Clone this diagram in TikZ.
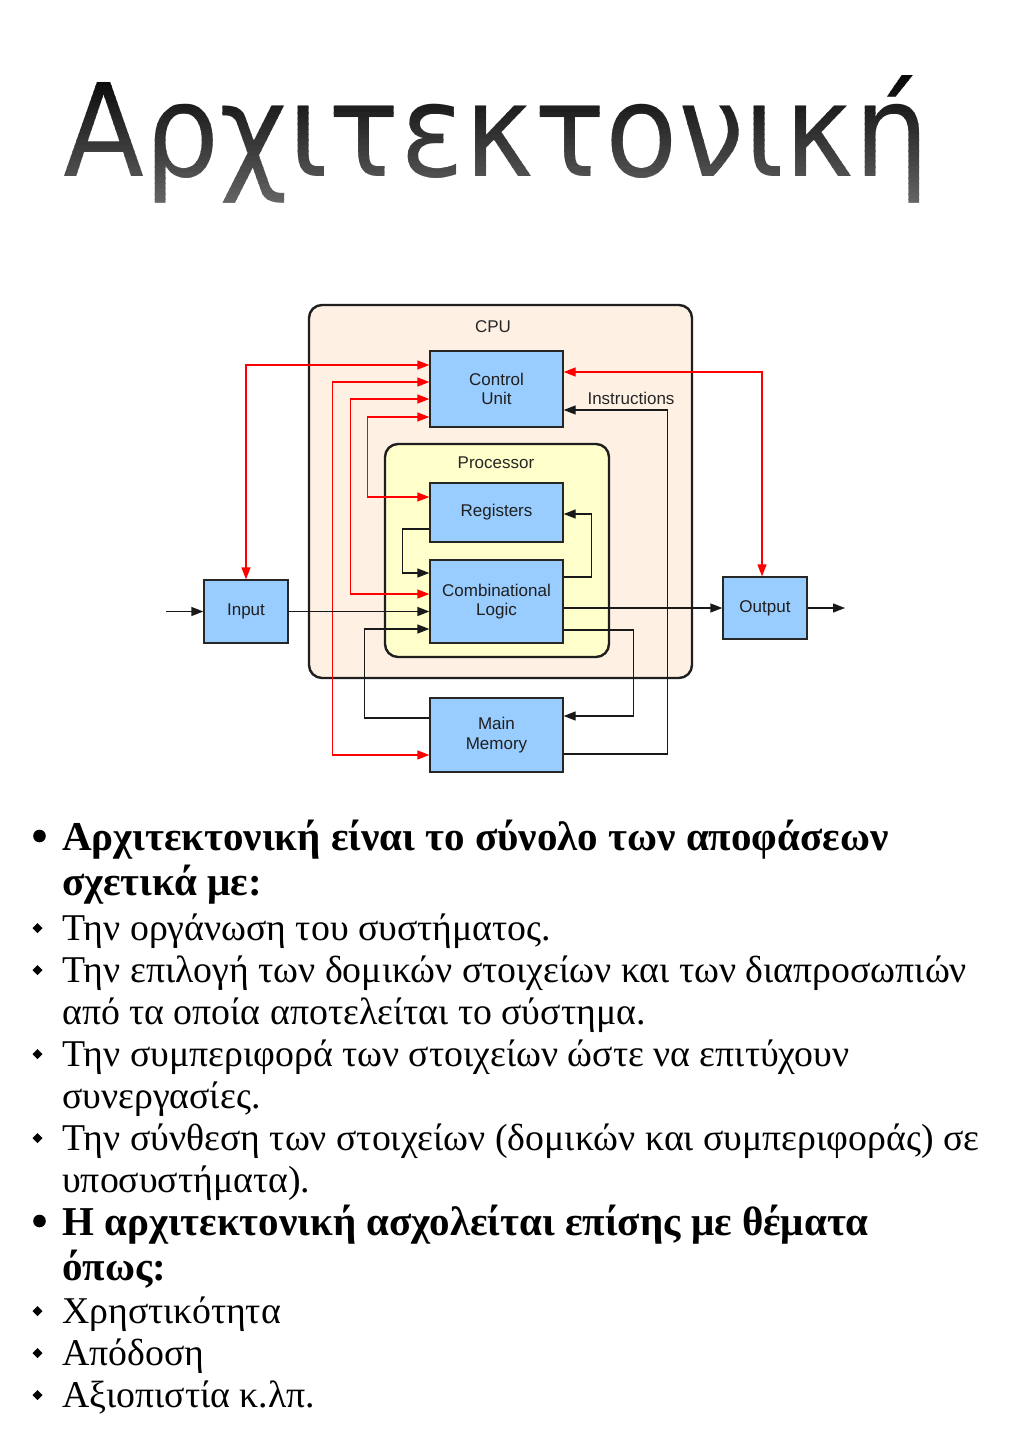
\documentclass[tikz,border=0pt]{standalone}
\usepackage{fontspec}
\usepackage{graphicx}
\setmainfont{Liberation Serif}
\newfontfamily\diagfont{Liberation Sans}
\newfontfamily\titlefont{DejaVu Sans}
\usetikzlibrary{arrows.meta,calc}
\definecolor{boxblue}{HTML}{99CCFF}
\definecolor{cpufill}{HTML}{FFF0E4}
\definecolor{procfill}{HTML}{FFFFCC}
\definecolor{redline}{HTML}{FF0000}
\newcommand\mytitlestr{\resizebox{866pt}{\height}{\titlefont\fontsize{129}{129}\selectfont Αρχιτεκτονική}}

\begin{document}
\begin{tikzpicture}[x=1pt,y=1pt,
  box/.style={draw=black!85, line width=1.3pt, fill=boxblue, inner sep=0pt,
    font=\diagfont\fontsize{17}{19.5}\selectfont, text=black!88, align=center},
  container/.style={draw=black!88, line width=2.4pt, rounded corners=13pt, inner sep=0pt},
  lbl/.style={font=\diagfont\fontsize{17}{19.5}\selectfont, text=black!85, inner sep=0pt},
  tip/.tip={Triangle[length=12pt,width=9pt]},
  rline/.style={draw=redline, line width=1.3pt, -tip},
  rboth/.style={draw=redline, line width=1.3pt, tip-tip},
  bline/.style={draw=black!90, line width=1.3pt, -tip},
  bodytext/.style={anchor=base west, inner sep=0pt, font=\fontsize{37.8}{42}\selectfont},
  headtext/.style={anchor=base west, inner sep=0pt, font=\bfseries\fontsize{41}{44}\selectfont},
  titletext/.style={anchor=base, inner sep=0pt},
  bigbullet/.style={fill=black},
  smallbullet/.style={fill=black}
]
\useasboundingbox (0,0) rectangle (1024,-1448);
\fill[white] (0,0) rectangle (1024,-1448);

% Title with stepped vertical gradient
\foreach \i in {0,...,25}{
  \pgfmathsetmacro\ytop{-75-\i*5.4}
  \pgfmathsetmacro\ybot{\ytop-5.8}
  \pgfmathsetmacro\shadeval{97-\i*1.55}
  \begin{scope}
    \clip (30,\ytop) rectangle (1000,\ybot);
    \node[titletext, text=black!\shadeval] (title\i) at (496.5,-176) {\mytitlestr};
  \end{scope}
}

% Containers
\node[container, fill=cpufill, minimum width=383pt, minimum height=373pt] (cpu) at (500.5,-491.5) {};
\node[container, fill=procfill, minimum width=224pt, minimum height=213pt] (proc) at (497,-550.5) {};
\node[lbl] (cpulbl) at (493,-327) {CPU};
\node[lbl] (proclbl) at (496,-463) {Processor};

% Boxes
\node[box, minimum width=133pt, minimum height=76pt] (cu) at (496.5,-389) {Control\\Unit};
\node[box, minimum width=133pt, minimum height=59pt] (reg) at (496.5,-512.5) {Registers};
\node[box, minimum width=133pt, minimum height=83pt] (cl) at (496.5,-601.5) {Combinational\\Logic};
\node[box, minimum width=133pt, minimum height=74pt] (mm) at (496.5,-735) {Main\\Memory};
\node[box, minimum width=84pt, minimum height=63pt] (in) at (246,-611.5) {Input};
\node[box, minimum width=84pt, minimum height=62pt] (out) at (765,-608) {Output};

\coordinate (instart) at (166,-611.5);
\coordinate (outend) at (845,-608);

% Red control lines
\draw[rboth] ([yshift=24pt]cu.west) -| (in.north);
\draw[rboth] ([yshift=7pt]cu.west) -| ([xshift=-97pt,yshift=-20pt]mm.west) -- ([yshift=-20pt]mm.west);
\draw[rboth] ([yshift=-10pt]cu.west) -| ([xshift=-79pt,yshift=7.5pt]cl.west) -- ([yshift=7.5pt]cl.west);
\draw[rboth] ([yshift=-28pt]cu.west) -| ([xshift=-62pt,yshift=15.5pt]reg.west) -- ([yshift=15.5pt]reg.west);
\draw[rboth] ([yshift=17pt]cu.east) -| ([xshift=-3pt]out.north);

% Black data lines
\draw[bline] ([yshift=-19pt]mm.east) -| ([xshift=104pt,yshift=-21pt]cu.east) -- ([yshift=-21pt]cu.east);
\node[lbl] (instr) at (631,-398) {Instructions};
\draw[bline] ([yshift=-16.5pt]reg.west) -| ([xshift=-27pt,yshift=28.5pt]cl.west) -- ([yshift=28.5pt]cl.west);
\draw[bline] ([yshift=24.5pt]cl.east) -| ([xshift=28pt,yshift=-1.5pt]reg.east) -- ([yshift=-1.5pt]reg.east);
\draw[bline] (in.east) -- (in.east -| cl.west);
\draw[bline] ([yshift=17pt]mm.west) -| ([xshift=-65pt,yshift=-27.5pt]cl.west) -- ([yshift=-27.5pt]cl.west);
\draw[bline] ([yshift=-28.5pt]cl.east) -| ([xshift=70pt,yshift=19pt]mm.east) -- ([yshift=19pt]mm.east);
\draw[bline] ([yshift=-6.5pt]cl.east) -- (out.west);
\draw[bline] (instart) -- (in.west);
\draw[bline] (out.east) -- (outend);

% Body text
\fill[bigbullet] (39.5,-836) circle (6.3pt);
\fill[bigbullet] (39.5,-1221) circle (6.3pt);
\foreach \by in {928,970,1054,1138,1311,1353,1395}{
  \fill[smallbullet] (37.5,-\by+5) -- ++(5,-5) -- ++(-5,-5) -- ++(-5,5) -- cycle;
}
\node[headtext] (h1) at (62,-850) {Αρχιτεκτονική είναι το σύνολο των αποφάσεων};
\node[headtext] (h1b) at (62,-895) {σχετικά με:};
\node[bodytext] (t1) at (62,-940) {Την οργάνωση του συστήματος.};
\node[bodytext] (t2) at (62,-982) {Την επιλογή των δομικών στοιχείων και των διαπροσωπιών};
\node[bodytext] (t2b) at (62,-1024) {από τα οποία αποτελείται το σύστημα.};
\node[bodytext] (t3) at (62,-1066) {Την συμπεριφορά των στοιχείων ώστε να επιτύχουν};
\node[bodytext] (t3b) at (62,-1108) {συνεργασίες.};
\node[bodytext] (t4) at (62,-1150) {Την σύνθεση των στοιχείων (δομικών και συμπεριφοράς) σε};
\node[bodytext] (t4b) at (62,-1192) {υποσυστήματα).};
\node[headtext] (h2) at (62,-1235) {Η αρχιτεκτονική ασχολείται επίσης με θέματα};
\node[headtext] (h2b) at (62,-1280) {όπως:};
\node[bodytext] (t5) at (62,-1323) {Χρηστικότητα};
\node[bodytext] (t6) at (62,-1365) {Απόδοση};
\node[bodytext] (t7) at (62,-1407) {Αξιοπιστία κ.λπ.};
\end{tikzpicture}
\end{document}
